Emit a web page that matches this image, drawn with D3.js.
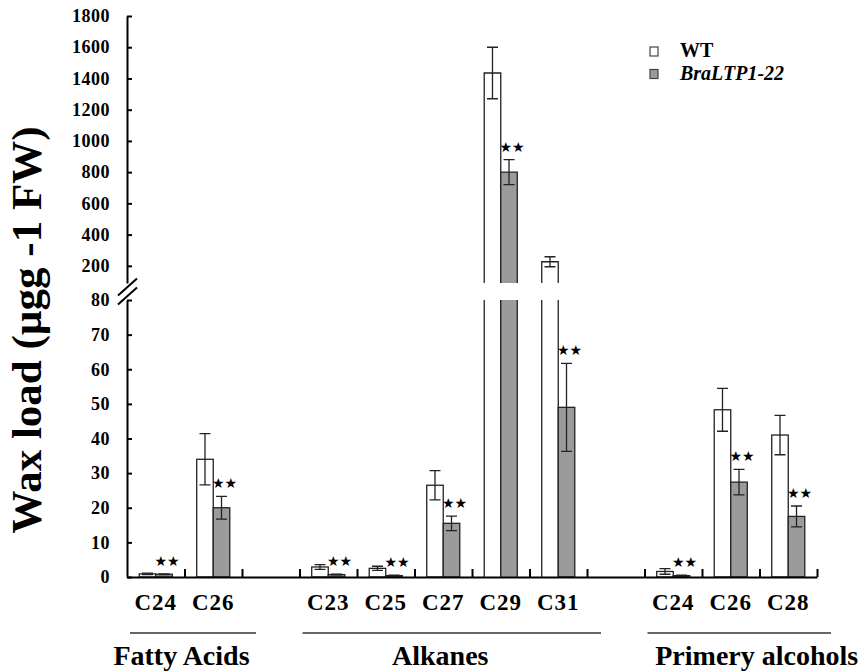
<html>
<head>
<meta charset="utf-8">
<script src="https://d3js.org/d3.v7.min.js"></script>
<style>
  body { margin: 0; background: #fff; }
</style>
</head>
<body>
<div id="chart"></div>
<script>
// data
var categories = ["C24", "C26", "C23", "C25", "C27", "C29", "C31", "C24", "C26", "C28"];
var groupOf    = [0, 0, 1, 1, 1, 1, 1, 2, 2, 2];
var groups     = ["Fatty Acids", "Alkanes", "Primery alcohols"];
var series     = ["WT", "BraLTP1-22"];
var wtMean  = [0.9, 34.0, 2.9, 2.5, 26.5, 1435, 226, 1.6, 48.3, 41.0];
var wtErr   = [0.2, 7.4, 0.7, 0.6, 4.2, 165, 32, 0.8, 6.2, 5.7];
var braMean = [0.8, 20.0, 0.7, 0.4, 15.5, 800, 49.0, 0.4, 27.4, 17.5];
var braErr  = [0.1, 3.3, 0.1, 0.1, 2.1, 80, 12.7, 0.1, 3.7, 3.0];
var signif  = [1, 1, 1, 1, 1, 1, 1, 1, 1, 1];
var upperTicks = [200, 400, 600, 800, 1000, 1200, 1400, 1600, 1800];
var lowerTicks = [0, 10, 20, 30, 40, 50, 60, 70, 80];

var SERIF = "Liberation Serif";
var W = 866, H = 671;
var svg = d3.select("#chart").append("svg").attr("width", W).attr("height", H);

var nSlots = categories.length + groups.length - 1;
var slotOf = categories.map(function(c, i) { return i + groupOf[i]; });

var x = d3.scaleBand().domain(d3.range(nSlots)).range([127, 817]);
var xEdge = d3.scaleLinear().domain([0, nSlots]).range([127, 817]);
var xs = d3.scaleBand().domain(series).range([0, x.bandwidth()]).paddingOuter(0.74);

var breakLow = 80, breakHigh = 90;
var yL = d3.scaleLinear().domain([0, breakLow]).range([577, 300]);
var yU = d3.scaleLinear().domain([breakHigh, 1800]).range([283, 16]);

var fills = { "WT": "#ffffff", "BraLTP1-22": "#9b9b9b" };

var bars = [];
categories.forEach(function(c, i) {
  bars.push({ s: "WT", slot: slotOf[i], v: wtMean[i], e: wtErr[i], sig: 0 });
  bars.push({ s: "BraLTP1-22", slot: slotOf[i], v: braMean[i], e: braErr[i], sig: signif[i] });
});

var g = svg.append("g");
bars.forEach(function(b) {
  var x0 = x(b.slot) + xs(b.s), w = xs.bandwidth();
  // lower panel
  var top = Math.min(b.v, breakLow);
  g.append("rect").attr("x", x0).attr("y", yL(top)).attr("width", w)
    .attr("height", yL(0) - yL(top)).attr("fill", fills[b.s]);
  if (b.v > breakLow) {
    g.append("path").attr("d", "M" + x0 + "," + yL(0) + "V" + yL(breakLow) + "M" + (x0 + w) + "," + yL(breakLow) + "V" + yL(0))
      .attr("fill", "none").attr("stroke", "#222").attr("stroke-width", 1.3);
  } else {
    g.append("rect").attr("x", x0).attr("y", yL(top)).attr("width", w)
      .attr("height", yL(0) - yL(top)).attr("fill", "none").attr("stroke", "#222").attr("stroke-width", 1.3);
  }
  // upper panel
  if (b.v > breakHigh) {
    g.append("rect").attr("x", x0).attr("y", yU(b.v)).attr("width", w)
      .attr("height", yU(breakHigh) - yU(b.v)).attr("fill", fills[b.s]);
    g.append("path").attr("d", "M" + x0 + "," + yU(breakHigh) + "V" + yU(b.v) + "H" + (x0 + w) + "V" + yU(breakHigh))
      .attr("fill", "none").attr("stroke", "#222").attr("stroke-width", 1.3);
  }
  // error bar
  var y = b.v > breakLow ? yU : yL;
  var cx = x0 + w / 2, cw = 5.5;
  var yt = y(b.v + b.e), yb = y(Math.max(b.v - b.e, 0));
  g.append("path")
    .attr("d", "M" + cx + "," + yb + "V" + yt + "M" + (cx - cw) + "," + yt + "H" + (cx + cw) + "M" + (cx - cw) + "," + yb + "H" + (cx + cw))
    .attr("fill", "none").attr("stroke", "#222").attr("stroke-width", 1.3);
  if (b.sig) {
    g.append("text").attr("class", "star").attr("x", cx + 3).attr("y", yt - 8).attr("text-anchor", "middle")
      .attr("font-family", "DejaVu Sans").attr("font-weight", "normal").attr("font-size", 14)
      .attr("fill", "#000").text("\u2605\u2605");
  }
});

// y axes
function styleAxis(sel) {
  sel.selectAll("path, line").attr("stroke", "#000").attr("stroke-width", 2);
  sel.selectAll("text").attr("font-size", 18).attr("letter-spacing", 0.5).attr("fill", "#000");
}
svg.append("g").attr("transform", "translate(127,0)")
  .call(d3.axisLeft(yL).tickValues(lowerTicks).tickSizeInner(-5).tickSizeOuter(0).tickPadding(17).tickFormat(d3.format("d")))
  .call(styleAxis);
svg.append("g").attr("transform", "translate(127,0)")
  .call(d3.axisLeft(yU).tickValues(upperTicks).tickSizeInner(-5).tickSizeOuter(0).tickPadding(17).tickFormat(d3.format("d")))
  .call(styleAxis);

// break marks
var mid = (yU(breakHigh) + yL(breakLow)) / 2;
[-4.5, 4.5].forEach(function(o) {
  svg.append("line").attr("x1", 118).attr("y1", mid + o + 8.5).attr("x2", 137).attr("y2", mid + o - 8.5)
    .attr("stroke", "#000").attr("stroke-width", 2);
});

// x axis
var xa = svg.append("g").attr("transform", "translate(0," + yL(0) + ")")
  .call(d3.axisBottom(xEdge).tickValues(d3.range(1, nSlots + 1)).tickSizeInner(-8).tickSizeOuter(0).tickFormat(""));
xa.selectAll("path, line").attr("stroke", "#000").attr("stroke-width", 2);

// category labels
categories.forEach(function(c, i) {
  svg.append("text").attr("x", x(slotOf[i]) + x.bandwidth() / 2).attr("y", 610)
    .attr("text-anchor", "middle").attr("font-size", 23).attr("letter-spacing", 1).text(c);
});

// group lines and labels
var labelDx = [-3, -3, 26];
groups.forEach(function(name, gi) {
  var idx = d3.range(categories.length).filter(function(i) { return groupOf[i] === gi; });
  var a = x(slotOf[idx[0]]), b = x(slotOf[idx[idx.length - 1]]) + x.bandwidth();
  svg.append("line").attr("x1", a + 3).attr("x2", b + 14).attr("y1", 633).attr("y2", 633)
    .attr("stroke", "#333").attr("stroke-width", 1.5);
  svg.append("text").attr("x", (a + b) / 2 + labelDx[gi]).attr("y", 665)
    .attr("text-anchor", "middle").attr("font-size", 28).text(name);
});

// y title
svg.append("text").attr("transform", "translate(41,330) rotate(-90)")
  .attr("text-anchor", "middle").attr("font-size", 43)
  .text("Wax load (\u00b5gg -1 FW)");

// legend
series.forEach(function(s, i) {
  var ly = 47 + i * 22.5;
  svg.append("rect").attr("x", 650).attr("y", ly).attr("width", 8).attr("height", 9)
    .attr("fill", fills[s]).attr("stroke", "#444").attr("stroke-width", 1.2);
  svg.append("text").attr("x", 680).attr("y", ly + 10).attr("font-size", 20)
    .attr("font-style", i ? "italic" : "normal").text(s);
});

// serif bold on every label (set on the text itself)
svg.selectAll("text:not(.star)").attr("font-family", SERIF).attr("font-weight", "bold");
</script>
</body>
</html>
